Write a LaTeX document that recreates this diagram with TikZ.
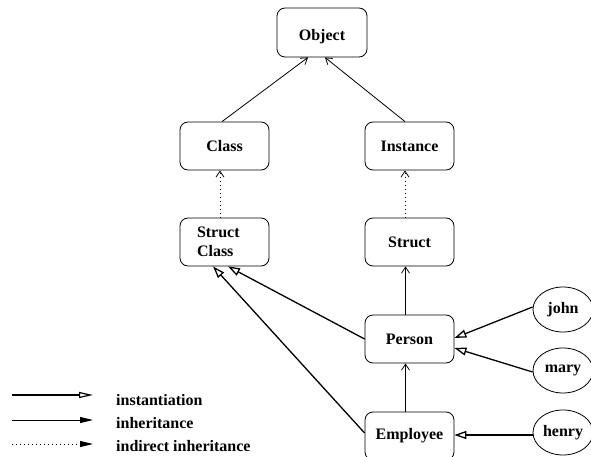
\documentclass[tikz,border=0pt]{standalone}
\usepackage{fontspec}
\setmainfont{Liberation Serif}
\usetikzlibrary{arrows.meta,shapes.geometric}
\begin{document}
\begin{tikzpicture}[x=1pt,y=-1pt,
  lbl/.style={font=\bfseries\fontsize{16}{19}\selectfont},
  box/.style={lbl, draw, rounded corners=8pt, minimum width=89pt, minimum height=48pt, line width=0.8pt},
  obj/.style={lbl, draw, ellipse, minimum width=60pt, minimum height=45pt, inner sep=0pt, line width=0.8pt},
  inh/.style={-{Straight Barb[length=6pt,width=8pt]}, line width=0.8pt},
  ind/.style={inh, dash pattern=on 1pt off 3pt},
  inst/.style={-{Triangle[open,length=12pt,width=8pt,fill=white]}, line width=1.3pt},
  leginst/.style={-{Triangle[open,length=14pt,width=6pt,fill=white]}, line width=1.2pt},
  leginh/.style={-{Triangle[length=13pt,width=6pt]}, line width=1pt},
  legind/.style={leginh, dash pattern=on 1pt off 3pt},
  legtext/.style={lbl, anchor=base west, inner sep=0pt}
]
\useasboundingbox (0,0) rectangle (591,457);

% boxes
\node[box, minimum width=90pt, minimum height=49pt] (object) at (322,32.5) {\raisebox{-4pt}[\height][\depth]{Object}};
\node[box] (class) at (224.5,146) {Class};
\node[box] (instance) at (409.5,146) {Instance};
\node[box, text width=55pt, align=left] (sclass) at (224.5,242) {Struct\\Class};
\node[box] (struct) at (409.5,242) {Struct};
\node[box] (person) at (409.5,339) {Person};
\node[box] (employee) at (409.5,436) {Employee};

% instances
\node[obj] (john) at (563,309.5) {john};
\node[obj] (mary) at (563,370.5) {mary};
\node[obj] (henry) at (563,432.5) {henry};

% inheritance
\draw[inh] ([xshift=-2.5pt]class.north) -- ([xshift=-14pt]object.south);
\draw[inh] ([xshift=-4.5pt]instance.north) -- ([xshift=3pt]object.south);
\draw[ind] ([xshift=-4.5pt]sclass.north) -- ([xshift=-4.5pt]class.south);
\draw[ind] ([xshift=-4.5pt]struct.north) -- ([xshift=-4.5pt]instance.south);
\draw[inh] ([xshift=-4pt]person.north) -- ([xshift=-4pt]struct.south);
\draw[inh] ([xshift=-4pt]employee.north) -- ([xshift=-4pt]person.south);

% instantiation
\draw[inst] (person.west) -- ([xshift=3.5pt]sclass.south);
\draw[inst] ([yshift=3pt]employee.west) -- ([xshift=-11.5pt]sclass.south);
\draw[inst] ([yshift=2.5pt]john.west) -- ([yshift=1pt]person.east);
\draw[inst] ([yshift=-1.5pt]mary.west) -- ([yshift=-9pt]person.east);
\draw[inst] ([yshift=-2.5pt]henry.west) -- ([yshift=1pt]employee.east);

% legend
\coordinate (l1a) at (12,395); \coordinate (l1b) at (93,395);
\coordinate (l2a) at (12,420); \coordinate (l2b) at (93,420);
\coordinate (l3a) at (12,444); \coordinate (l3b) at (93,444);
\draw[leginst] (l1a) -- (l1b);
\draw[leginh] (l2a) -- (l2b);
\draw[legind] (l3a) -- (l3b);
\node[legtext] (t1) at (116,405) {instantiation};
\node[legtext] (t2) at (116,428) {inheritance};
\node[legtext] (t3) at (116,451) {indirect inheritance};
\end{tikzpicture}
\end{document}
